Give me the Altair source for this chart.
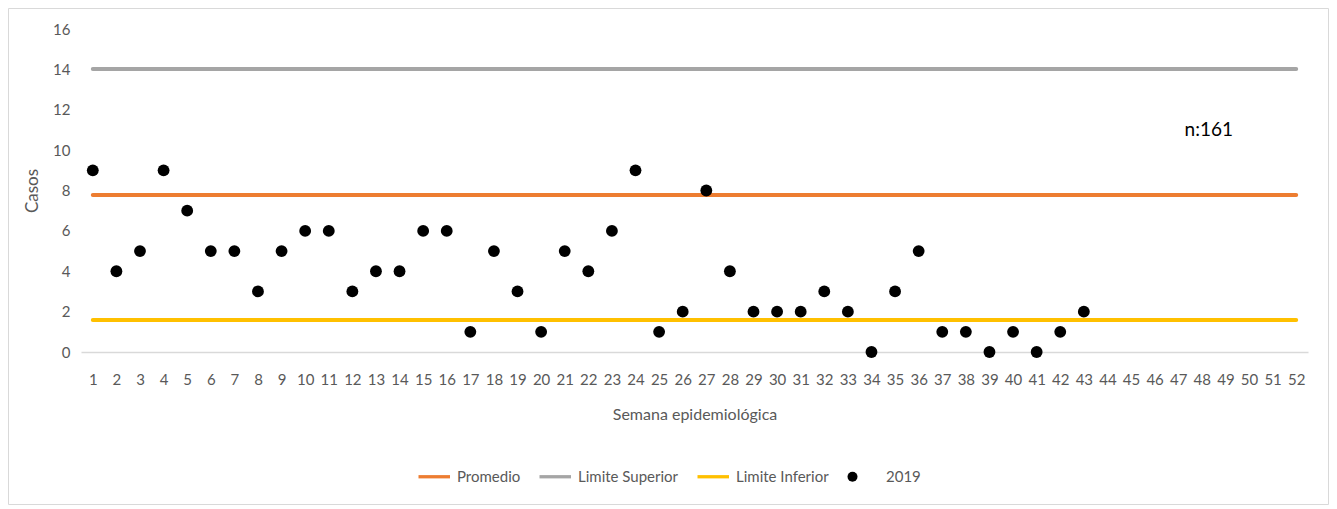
import altair as alt
import pandas as pd

semanas = list(range(1, 44))
casos_2019 = [9, 4, 5, 9, 7, 5, 5, 3, 5, 6, 6, 3, 4, 4, 6, 6, 1, 5, 3, 1,
              5, 4, 6, 9, 1, 2, 8, 4, 2, 2, 2, 3, 2, 0, 3, 5, 1, 1, 0, 1,
              0, 1, 2]

series = ["Promedio", "Limite Superior", "Limite Inferior", "2019"]
colores = ["#ED7D31", "#A5A5A5", "#FFC000", "#000000"]
niveles = [7.78, 14.02, 1.58]
semana_ini, semana_fin = 1, 52
etiquetas_x = list(range(1, 53))
etiquetas_y = [0, 2, 4, 6, 8, 10, 12, 14, 16]

FONT = "Lato"
GRIS = "#595959"

rows = []
for s, c, v in zip(series[:3], colores[:3], niveles):
    rows.append({"serie": s, "color": c, "semana": semana_ini, "valor": v})
    rows.append({"serie": s, "color": c, "semana": semana_fin, "valor": v})
lineas_df = pd.DataFrame(rows)

puntos_df = pd.DataFrame({"semana": semanas, "casos": casos_2019, "serie": ["2019"] * len(semanas)})

x_scale = alt.Scale(type="point", domain=etiquetas_x, padding=0.5)
y_scale = alt.Scale(domain=[0, 16], nice=False)

x_axis = alt.Axis(title="Semana epidemiológica", grid=False, ticks=False,
                  domainColor="#D9D9D9", domainWidth=1.5, labelPadding=20,
                  labelFont=FONT, labelFontSize=15, labelColor=GRIS, labelAngle=0,
                  titleFont=FONT, titleFontSize=16, titleColor=GRIS, titleFontWeight="normal",
                  titlePadding=19, labelOverlap=False)
y_axis = alt.Axis(values=etiquetas_y, title="Casos", grid=False, ticks=False, domain=False,
                  labelPadding=11, labelFont=FONT, labelFontSize=15, labelColor=GRIS,
                  titleFont=FONT, titleFontSize=17, titleColor=GRIS, titleFontWeight="normal",
                  titlePadding=11)

# decorative outer frame of the chart
marco = alt.Chart(pd.DataFrame({"k": [0]})).mark_rect(
    fill=None, stroke="#D9D9D9", strokeWidth=1
).encode(x=alt.value(-72.5), x2=alt.value(1247.5), y=alt.value(-20.5), y2=alt.value(475.5))

lineas = alt.Chart(lineas_df).mark_line(strokeWidth=4, strokeCap="round").encode(
    x=alt.X("semana:O", scale=x_scale, axis=x_axis),
    y=alt.Y("valor:Q", scale=y_scale, axis=y_axis),
    color=alt.Color("color:N", scale=None),
    detail="serie:N",
)

linea_path = "M-1,-0.33H5.3V0.33H-1Z"
puntos = alt.Chart(puntos_df).mark_point(filled=True, size=140, opacity=1).encode(
    x=alt.X("semana:O", scale=x_scale),
    y=alt.Y("casos:Q", scale=y_scale),
    color=alt.Color("serie:N", scale=alt.Scale(domain=series, range=colores),
                    legend=alt.Legend(title=None, orient="none", direction="horizontal",
                                      legendX=335, legendY=440,
                                      labelFont=FONT, labelFontSize=15, labelColor=GRIS,
                                      labelOffset=26, columnPadding=16, symbolStrokeWidth=0)),
    shape=alt.Shape("serie:N", scale=alt.Scale(domain=series,
                                               range=[linea_path, linea_path, linea_path, "circle"])),
)

texto = alt.Chart(pd.DataFrame({"semana": [48], "valor": [11.0], "t": ["n:161"]})).mark_text(
    font=FONT, fontSize=19, color="#000000", dx=7
).encode(x=alt.X("semana:O", scale=x_scale), y=alt.Y("valor:Q", scale=y_scale), text="t:N")

chart = alt.layer(marco, lineas, puntos, texto).properties(
    width=1227, height=323,
    autosize=alt.AutoSizeParams(type="none"),
    padding={"left": 73, "top": 21, "right": 21, "bottom": 153},
).configure_view(stroke=None)

chart.save("out.html", embed_options={"renderer": "svg", "actions": False})
